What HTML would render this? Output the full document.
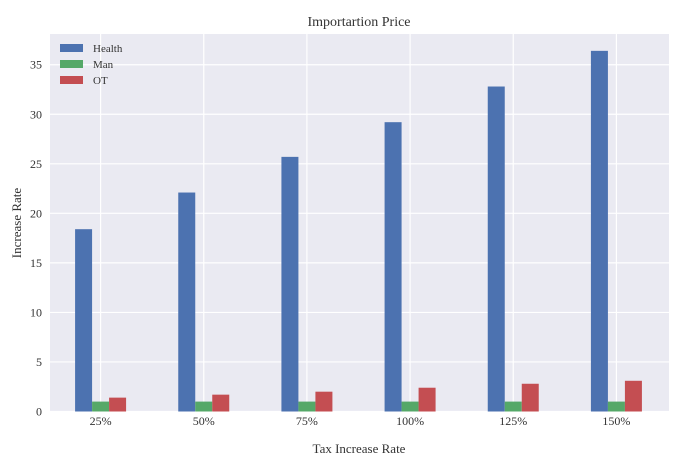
<!DOCTYPE html>
<html><head><meta charset="utf-8"><style>
body{margin:0;background:#fff;}
svg{display:block;font-family:"Liberation Serif","DejaVu Serif",serif;}
</style></head><body>
<svg id="chart" width="687" height="467" xmlns="http://www.w3.org/2000/svg">
<rect x="50" y="34" width="619" height="378" fill="#eaeaf2"/>
<g id="grid"></g><g id="bars"></g><g id="ticks"></g>
<text x="359" y="26" font-size="14" text-anchor="middle" fill="#333">Importartion Price</text>
<text x="359" y="453" font-size="13" text-anchor="middle" fill="#333">Tax Increase Rate</text>
<text transform="translate(21,223) rotate(-90)" font-size="13" text-anchor="middle" fill="#333">Increase Rate</text>
<g>
<rect x="60" y="44" width="23" height="8" fill="#4c72b0"/>
<text x="93" y="52" font-size="11" fill="#333">Health</text>
<rect x="60" y="60" width="23" height="8" fill="#55a868"/>
<text x="93" y="68" font-size="11" fill="#333">Man</text>
<rect x="60" y="76" width="23" height="8" fill="#c44e52"/>
<text x="93" y="84" font-size="11" fill="#333">OT</text>
</g>
</svg>
<script>
const categories=["25%","50%","75%","100%","125%","150%"];
const health=[18.4,22.1,25.7,29.2,32.8,36.4];
const man=[1,1,1,1,1,1];
const ot=[1.4,1.7,2.0,2.4,2.8,3.1];
const yTicks=[0,5,10,15,20,25,30,35];
const NS="http://www.w3.org/2000/svg";
const L=50,R=669,T=34,B=411.5,YMAX=38.1;
const y=v=>B-(v/YMAX)*(B-T);
const step=(R-L)/categories.length;
const x=i=>L+step*(i+0.5)-1;
const bw=17;
function mk(tag,attrs,parent){const e=document.createElementNS(NS,tag);for(const k in attrs)e.setAttribute(k,attrs[k]);parent.appendChild(e);return e;}
const grid=document.getElementById('grid'),bars=document.getElementById('bars'),ticks=document.getElementById('ticks');
yTicks.forEach(t=>{
  const ln=mk('line',{x1:L,x2:R,y1:y(t),y2:y(t),stroke:'#fff','stroke-width':1.2},grid);
  
  
  const tx=mk('text',{x:L-8,y:y(t)+4,'font-size':12,'text-anchor':'end',fill:'#333'},ticks);
  tx.textContent=t;
  
  
});
categories.forEach((c,i)=>{
  const cx=x(i);
  const ln=mk('line',{x1:cx,x2:cx,y1:T,y2:B,stroke:'#fff','stroke-width':1.2},grid);
  
  
  const tx=mk('text',{x:cx,y:425,'font-size':12,'text-anchor':'middle',fill:'#333'},ticks);
  tx.textContent=c;
  
  
  [[health,'#4c72b0','health',-1],[man,'#55a868','man',0],[ot,'#c44e52','ot',1]].forEach(([arr,col,nm,off])=>{
    const bx=cx+off*bw-bw/2;
    const r=mk('rect',{x:bx,y:y(arr[i]),width:bw,height:B-y(arr[i]),fill:col},bars);
    
    
  });
});
</script>
</body></html>
